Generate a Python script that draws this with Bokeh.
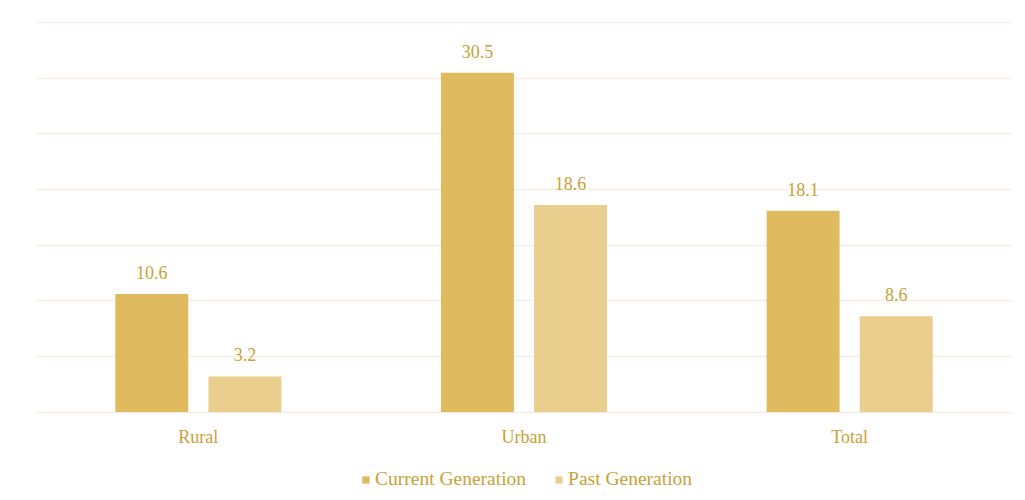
from bokeh.plotting import figure
from bokeh.models import ColumnDataSource, LabelSet, Legend, LegendItem, FactorRange
from bokeh.transform import dodge
from bokeh.embed import file_html
from bokeh.resources import INLINE

categories = ["Rural", "Urban", "Total"]
current_generation = [10.6, 30.5, 18.1]
past_generation = [3.2, 18.6, 8.6]
series_names = ["Current Generation", "Past Generation"]
grid_values = [0, 5, 10, 15, 20, 25, 30, 35]

FONT = "Liberation Serif"
TEXT_COLOR = "#C9A137"
C_CUR = "#E0BA5E"
C_PAST = "#E9CE8D"
GRID = "#F6EFDF"

src = ColumnDataSource(dict(
    cat=categories,
    zero=[0] * len(categories),
    cur=current_generation,
    past=past_generation,
    cur_lbl=[f"{v:.1f}" for v in current_generation],
    past_lbl=[f"{v:.1f}" for v in past_generation],
))

p = figure(x_range=FactorRange(*categories), y_range=(-7.95, 35.1),
           width=1025, height=500, output_backend="svg", toolbar_location=None,
           min_border_left=35, min_border_right=13, min_border_top=21, min_border_bottom=0)
p.outline_line_color = None
p.background_fill_color = "white"
p.border_fill_color = "white"

p.xaxis.visible = False
p.yaxis.visible = False
p.xgrid.grid_line_color = None
p.ygrid.grid_line_color = GRID
p.ygrid.grid_line_width = 1.5
p.ygrid.ticker = grid_values

r1 = p.vbar(x=dodge("cat", -0.143, range=p.x_range), top="cur", width=0.224, source=src,
            fill_color=C_CUR, line_color=None)
r2 = p.vbar(x=dodge("cat", 0.143, range=p.x_range), top="past", width=0.224, source=src,
            fill_color=C_PAST, line_color=None)

for col, lbl, off in (("cur", "cur_lbl", -0.143), ("past", "past_lbl", 0.143)):
    p.add_layout(LabelSet(x=dodge("cat", off, range=p.x_range), y=col, text=lbl, source=src,
                          text_align="center", text_baseline="bottom", y_offset=15,
                          text_font=FONT, text_font_size="18px", text_color=TEXT_COLOR))

# category labels under the baseline
p.add_layout(LabelSet(x="cat", y="zero", text="cat", source=src,
                      text_align="center", text_baseline="middle", y_offset=-25,
                      text_font=FONT, text_font_size="18px", text_color=TEXT_COLOR))

legend = Legend(items=[LegendItem(label=series_names[0], renderers=[r1]),
                       LegendItem(label=series_names[1], renderers=[r2])],
                orientation="horizontal", location=(326, 10),
                label_text_font=FONT, label_text_font_size="19.5px", label_text_color=TEXT_COLOR,
                glyph_width=9, glyph_height=9, label_standoff=5, spacing=28,
                padding=0, margin=0, border_line_color=None, background_fill_alpha=0)
p.add_layout(legend, "center")

open("out.html", "w").write(file_html(p, INLINE))
